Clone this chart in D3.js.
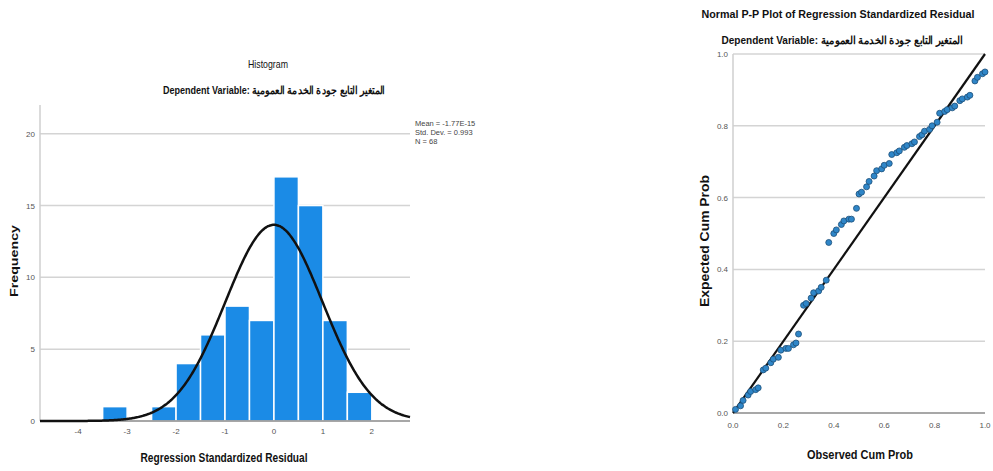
<!DOCTYPE html>
<html>
<head>
<meta charset="utf-8">
<script src="https://d3js.org/d3.v7.min.js"></script>
<style>
    body { margin: 0; background: #fff; }
    svg text { font-family: "Liberation Sans Narrow", "Liberation Sans", Arial, sans-serif; }
    .tick-lbl { fill: #555; font-size: 8px; }
    .ttl { fill: #111; font-weight: bold; }
</style>
</head>
<body>
<script>
    // histogram data
    const binStarts = [-3.5, -3, -2.5, -2, -1.5, -1, -0.5, 0, 0.5, 1, 1.5];
    const binCounts = [1, 0, 1, 4, 6, 8, 7, 17, 15, 7, 2];
    const binWidth = 0.5;
    const histXTicks = [-4, -3, -2, -1, 0, 1, 2];
    const histYTicks = [0, 5, 10, 15, 20];
    const meanResid = -1.77e-15;
    const sdResid = 0.993;
    const nCases = 68;
    const statLines = ["Mean = -1.77E-15", "Std. Dev. = 0.993", "N = 68"];

    // P-P plot data
    const observedCum = [0.01, 0.03, 0.04, 0.06, 0.07, 0.09, 0.10, 0.12, 0.13, 0.15, 0.16, 0.18, 0.19, 0.21, 0.22, 0.24, 0.25,
        0.26, 0.28, 0.29, 0.31, 0.32, 0.34, 0.35, 0.37, 0.38, 0.40, 0.41, 0.43, 0.44, 0.46, 0.47, 0.49, 0.50,
        0.51, 0.53, 0.54, 0.56, 0.57, 0.59, 0.60, 0.62, 0.63, 0.65, 0.66, 0.68, 0.69, 0.71, 0.72, 0.74, 0.75,
        0.76, 0.78, 0.79, 0.81, 0.82, 0.84, 0.85, 0.87, 0.88, 0.90, 0.91, 0.93, 0.94, 0.96, 0.97, 0.99, 1.00];
    const expectedCum = [0.01, 0.02, 0.035, 0.05, 0.06, 0.065, 0.07, 0.12, 0.125, 0.14, 0.15, 0.155, 0.175, 0.18, 0.18, 0.19, 0.195,
        0.22, 0.30, 0.305, 0.32, 0.335, 0.34, 0.35, 0.37, 0.475, 0.50, 0.51, 0.525, 0.535, 0.54, 0.54, 0.57, 0.61,
        0.615, 0.63, 0.645, 0.66, 0.675, 0.68, 0.69, 0.695, 0.72, 0.725, 0.73, 0.74, 0.745, 0.75, 0.755, 0.77, 0.775,
        0.785, 0.79, 0.80, 0.81, 0.835, 0.84, 0.845, 0.85, 0.855, 0.87, 0.875, 0.88, 0.885, 0.925, 0.935, 0.945, 0.95];
    const ppTicks = [0, 0.2, 0.4, 0.6, 0.8, 1.0];

    const depVar = "Dependent Variable: المتغير التابع جودة الخدمة العمومية";

    const svg = d3.select("body").append("svg")
        .attr("width", 993)
        .attr("height", 471);

    // squeeze a title into the width it takes in the picture
    function title(g, txt, x, y, size, len, rot) {
        const t = g.append("text").attr("class", "ttl")
            .attr("text-anchor", "middle")
            .attr("font-size", size + "px")
            .attr("textLength", len)
            .attr("lengthAdjust", "spacingAndGlyphs")
            .text(txt);
        if (rot) t.attr("transform", "translate(" + x + "," + y + ") rotate(-90)");
        else t.attr("x", x).attr("y", y);
        return t;
    }

    // ---------- Histogram ----------
    const hx = d3.scaleLinear().domain([-4.78, 2.78]).range([40, 410]);
    const hy = d3.scaleLinear().domain([0, 22]).range([421, 105]);

    const hist = svg.append("g");

    hist.selectAll(".grid")
        .data(histYTicks.filter(d => d > 0))
        .enter().append("line")
        .attr("x1", hx.range()[0]).attr("x2", hx.range()[1])
        .attr("y1", d => hy(d)).attr("y2", d => hy(d))
        .attr("stroke", "#d4d4d4").attr("stroke-width", 1.5);

    hist.append("line")
        .attr("x1", hx.range()[0]).attr("x2", hx.range()[0])
        .attr("y1", hy.range()[1]).attr("y2", hy(0))
        .attr("stroke", "#cfcfcf").attr("stroke-width", 1.5);

    hist.selectAll("rect")
        .data(binStarts)
        .enter().append("rect")
        .attr("x", d => hx(d))
        .attr("width", hx(binWidth) - hx(0))
        .attr("y", (d, i) => hy(binCounts[i]))
        .attr("height", (d, i) => hy(0) - hy(binCounts[i]))
        .attr("fill", "#1b8be6")
        .attr("stroke", "#ffffff")
        .attr("stroke-width", 1.5)
        .style("display", (d, i) => binCounts[i] ? null : "none");

    hist.append("line")
        .attr("x1", hx.range()[0]).attr("x2", hx.range()[1])
        .attr("y1", hy(0)).attr("y2", hy(0))
        .attr("stroke", "#8a8a8a").attr("stroke-width", 1.5);

    // fitted normal curve from the stated mean / sd / N
    const curvePts = d3.range(-4.78, 2.79, 0.02).map(x => [x,
        nCases * binWidth * Math.exp(-0.5 * Math.pow((x - meanResid) / sdResid, 2)) / (sdResid * Math.sqrt(2 * Math.PI))]);
    hist.append("path")
        .datum(curvePts)
        .attr("fill", "none")
        .attr("stroke", "#111")
        .attr("stroke-width", 2.5)
        .attr("d", d3.line().x(d => hx(d[0])).y(d => hy(d[1])).curve(d3.curveBasis));

    hist.selectAll(".ylbl")
        .data(histYTicks)
        .enter().append("text")
        .attr("class", "tick-lbl")
        .attr("x", 35).attr("y", d => hy(d) + 3)
        .attr("text-anchor", "end")
        .text(d => d);

    hist.selectAll(".xlbl")
        .data(histXTicks)
        .enter().append("text")
        .attr("class", "tick-lbl")
        .attr("x", d => hx(d)).attr("y", 434)
        .attr("text-anchor", "middle")
        .text(d => d);

    hist.selectAll(".stat")
        .data(statLines)
        .enter().append("text")
        .attr("x", 415).attr("y", (d, i) => 126 + i * 9)
        .attr("fill", "#444").attr("font-size", "7.5px")
        .text(d => d);

    title(hist, "Histogram", 268, 68, 10.5, 40).style("font-weight", "normal");
    title(hist, depVar, 274, 94, 10.5, 222);
    title(hist, "Frequency", 18, 261, 11, 72, true);
    title(hist, "Regression Standardized Residual", 224, 462, 12, 167);

    // ---------- Normal P-P plot ----------
    const px = d3.scaleLinear().domain([0, 1]).range([733, 985]);
    const py = d3.scaleLinear().domain([0, 1]).range([413, 54]);

    const pp = svg.append("g");

    pp.selectAll(".grid")
        .data(ppTicks.filter(d => d > 0))
        .enter().append("line")
        .attr("x1", px(0)).attr("x2", px(1))
        .attr("y1", d => py(d)).attr("y2", d => py(d))
        .attr("stroke", "#d4d4d4").attr("stroke-width", 1.5);

    pp.append("line")
        .attr("x1", px(0)).attr("x2", px(0))
        .attr("y1", py(1)).attr("y2", py(0))
        .attr("stroke", "#cfcfcf").attr("stroke-width", 1.5);
    pp.append("line")
        .attr("x1", px(0)).attr("x2", px(1))
        .attr("y1", py(0)).attr("y2", py(0))
        .attr("stroke", "#8a8a8a").attr("stroke-width", 1.5);

    pp.append("line")
        .attr("x1", px(0)).attr("y1", py(0))
        .attr("x2", px(1)).attr("y2", py(1))
        .attr("stroke", "#111").attr("stroke-width", 2.2);

    pp.selectAll("circle")
        .data(observedCum)
        .enter().append("circle")
        .attr("cx", d => px(d))
        .attr("cy", (d, i) => py(expectedCum[i]))
        .attr("r", 3)
        .attr("fill", "#2f86c8")
        .attr("stroke", "#1d4f78")
        .attr("stroke-width", 0.8);

    pp.selectAll(".ylbl")
        .data(ppTicks)
        .enter().append("text")
        .attr("class", "tick-lbl")
        .attr("x", 728).attr("y", d => py(d) + 3)
        .attr("text-anchor", "end")
        .text(d => d.toFixed(1));

    pp.selectAll(".xlbl")
        .data(ppTicks)
        .enter().append("text")
        .attr("class", "tick-lbl")
        .attr("x", d => px(d)).attr("y", 428)
        .attr("text-anchor", "middle")
        .text(d => d.toFixed(1));

    title(pp, "Normal P-P Plot of Regression Standardized Residual", 838, 18, 10.5, 273);
    title(pp, depVar, 842, 44, 11, 241);
    title(pp, "Expected Cum Prob", 709, 241, 13, 132, true);
    title(pp, "Observed Cum Prob", 860, 459, 12.5, 106);
</script>
</body>
</html>
